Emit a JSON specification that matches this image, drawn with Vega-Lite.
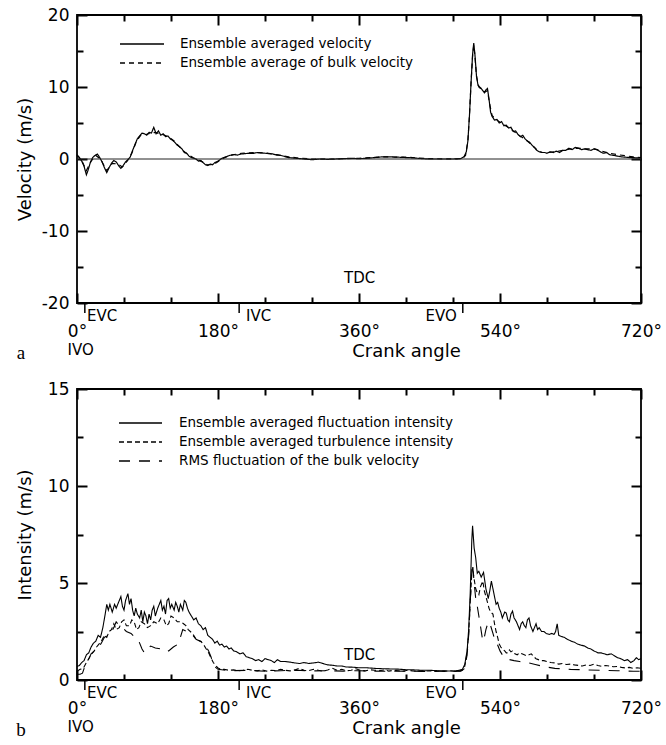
{
  "$schema": "https://vega.github.io/schema/vega-lite/v6.json",
  "padding": {"left": 15, "top": 5, "right": 2, "bottom": 5},
  "bounds": "flush",
  "spacing": 86,
  "config": {
    "view": {"stroke": "black", "strokeWidth": 1.8},
    "font": "DejaVu Sans",
    "axis": {"grid": false, "domain": false, "ticks": true, "tickColor": "black", "tickWidth": 2, "tickOpacity": 1, "labelColor": "black", "labelFont": "DejaVu Sans", "labelFontSize": 17, "titleFont": "DejaVu Sans", "titleFontSize": 18, "titleFontWeight": "normal", "titleColor": "black", "labelFlush": false, "labelOverlap": false},
    "legend": {"labelFont": "DejaVu Sans", "labelFontSize": 13.5, "labelColor": "black", "labelLimit": 0},
    "text": {"font": "DejaVu Sans", "color": "black"}
  },
  "resolve": {"scale": {"strokeDash": "independent", "x": "independent", "y": "independent"}, "legend": {"strokeDash": "independent"}},
  "datasets": {
    "panel_a": [
      {"angle":0,"value":0.5,"series":"velocity"},{"angle":3,"value":0.2,"series":"velocity"},{"angle":6,"value":-0.3,"series":"velocity"},{"angle":9,"value":-1.0,"series":"velocity"},{"angle":12,"value":-2.2,"series":"velocity"},{"angle":14,"value":-1.6,"series":"velocity"},{"angle":17,"value":-0.5,"series":"velocity"},{"angle":20,"value":0.2,"series":"velocity"},{"angle":23,"value":0.5,"series":"velocity"},{"angle":26,"value":0.7,"series":"velocity"},{"angle":29,"value":0.2,"series":"velocity"},{"angle":32,"value":-0.4,"series":"velocity"},{"angle":35,"value":-1.2,"series":"velocity"},{"angle":38,"value":-1.9,"series":"velocity"},{"angle":41,"value":-1.2,"series":"velocity"},{"angle":44,"value":-0.6,"series":"velocity"},{"angle":47,"value":-0.2,"series":"velocity"},{"angle":50,"value":-0.4,"series":"velocity"},{"angle":53,"value":-0.9,"series":"velocity"},{"angle":56,"value":-1.3,"series":"velocity"},{"angle":59,"value":-0.9,"series":"velocity"},{"angle":62,"value":-0.4,"series":"velocity"},{"angle":65,"value":-0.1,"series":"velocity"},{"angle":68,"value":0.3,"series":"velocity"},{"angle":71,"value":1.2,"series":"velocity"},{"angle":74,"value":2.0,"series":"velocity"},{"angle":77,"value":2.8,"series":"velocity"},{"angle":80,"value":3.2,"series":"velocity"},{"angle":83,"value":3.6,"series":"velocity"},{"angle":86,"value":3.5,"series":"velocity"},{"angle":89,"value":3.3,"series":"velocity"},{"angle":92,"value":3.7,"series":"velocity"},{"angle":95,"value":3.6,"series":"velocity"},{"angle":98,"value":4.4,"series":"velocity"},{"angle":101,"value":3.5,"series":"velocity"},{"angle":104,"value":3.9,"series":"velocity"},{"angle":107,"value":3.3,"series":"velocity"},{"angle":110,"value":3.5,"series":"velocity"},{"angle":113,"value":3.1,"series":"velocity"},{"angle":116,"value":3.2,"series":"velocity"},{"angle":119,"value":2.8,"series":"velocity"},{"angle":122,"value":2.6,"series":"velocity"},{"angle":125,"value":2.3,"series":"velocity"},{"angle":128,"value":1.9,"series":"velocity"},{"angle":131,"value":1.7,"series":"velocity"},{"angle":134,"value":1.4,"series":"velocity"},{"angle":137,"value":0.9,"series":"velocity"},{"angle":140,"value":0.8,"series":"velocity"},{"angle":143,"value":0.4,"series":"velocity"},{"angle":146,"value":0.2,"series":"velocity"},{"angle":149,"value":0.1,"series":"velocity"},{"angle":152,"value":0.0,"series":"velocity"},{"angle":155,"value":-0.3,"series":"velocity"},{"angle":158,"value":-0.2,"series":"velocity"},{"angle":161,"value":-0.5,"series":"velocity"},{"angle":164,"value":-0.8,"series":"velocity"},{"angle":167,"value":-0.9,"series":"velocity"},{"angle":170,"value":-0.7,"series":"velocity"},{"angle":173,"value":-0.8,"series":"velocity"},{"angle":176,"value":-0.5,"series":"velocity"},{"angle":180,"value":-0.3,"series":"velocity"},{"angle":185,"value":0.1,"series":"velocity"},{"angle":190,"value":0.3,"series":"velocity"},{"angle":195,"value":0.5,"series":"velocity"},{"angle":200,"value":0.6,"series":"velocity"},{"angle":205,"value":0.55,"series":"velocity"},{"angle":210,"value":0.7,"series":"velocity"},{"angle":215,"value":0.75,"series":"velocity"},{"angle":220,"value":0.8,"series":"velocity"},{"angle":225,"value":0.78,"series":"velocity"},{"angle":230,"value":0.9,"series":"velocity"},{"angle":235,"value":0.85,"series":"velocity"},{"angle":240,"value":0.8,"series":"velocity"},{"angle":245,"value":0.75,"series":"velocity"},{"angle":250,"value":0.7,"series":"velocity"},{"angle":255,"value":0.55,"series":"velocity"},{"angle":260,"value":0.5,"series":"velocity"},{"angle":265,"value":0.35,"series":"velocity"},{"angle":270,"value":0.2,"series":"velocity"},{"angle":280,"value":0.1,"series":"velocity"},{"angle":290,"value":0.0,"series":"velocity"},{"angle":300,"value":-0.1,"series":"velocity"},{"angle":310,"value":0.0,"series":"velocity"},{"angle":320,"value":-0.05,"series":"velocity"},{"angle":330,"value":0.0,"series":"velocity"},{"angle":340,"value":0.05,"series":"velocity"},{"angle":350,"value":0.1,"series":"velocity"},{"angle":360,"value":0.05,"series":"velocity"},{"angle":370,"value":0.1,"series":"velocity"},{"angle":380,"value":0.2,"series":"velocity"},{"angle":390,"value":0.3,"series":"velocity"},{"angle":400,"value":0.3,"series":"velocity"},{"angle":410,"value":0.25,"series":"velocity"},{"angle":420,"value":0.2,"series":"velocity"},{"angle":430,"value":0.15,"series":"velocity"},{"angle":440,"value":0.05,"series":"velocity"},{"angle":450,"value":0.0,"series":"velocity"},{"angle":460,"value":0.0,"series":"velocity"},{"angle":470,"value":0.0,"series":"velocity"},{"angle":480,"value":0.0,"series":"velocity"},{"angle":490,"value":0.05,"series":"velocity"},{"angle":494,"value":0.3,"series":"velocity"},{"angle":497,"value":1.0,"series":"velocity"},{"angle":499,"value":2.5,"series":"velocity"},{"angle":501,"value":6.0,"series":"velocity"},{"angle":503,"value":10.5,"series":"velocity"},{"angle":505,"value":14.5,"series":"velocity"},{"angle":506.5,"value":16.1,"series":"velocity"},{"angle":508,"value":14.5,"series":"velocity"},{"angle":510,"value":11.5,"series":"velocity"},{"angle":512,"value":10.2,"series":"velocity"},{"angle":514,"value":10.0,"series":"velocity"},{"angle":516,"value":9.8,"series":"velocity"},{"angle":518,"value":9.5,"series":"velocity"},{"angle":520,"value":9.2,"series":"velocity"},{"angle":522,"value":9.6,"series":"velocity"},{"angle":524,"value":9.8,"series":"velocity"},{"angle":526,"value":8.3,"series":"velocity"},{"angle":528,"value":6.5,"series":"velocity"},{"angle":530,"value":5.9,"series":"velocity"},{"angle":533,"value":5.4,"series":"velocity"},{"angle":536,"value":5.5,"series":"velocity"},{"angle":539,"value":5.0,"series":"velocity"},{"angle":542,"value":5.2,"series":"velocity"},{"angle":545,"value":4.6,"series":"velocity"},{"angle":548,"value":4.7,"series":"velocity"},{"angle":551,"value":4.3,"series":"velocity"},{"angle":554,"value":4.4,"series":"velocity"},{"angle":557,"value":3.8,"series":"velocity"},{"angle":560,"value":3.9,"series":"velocity"},{"angle":563,"value":3.4,"series":"velocity"},{"angle":566,"value":3.1,"series":"velocity"},{"angle":569,"value":3.3,"series":"velocity"},{"angle":572,"value":2.8,"series":"velocity"},{"angle":575,"value":2.5,"series":"velocity"},{"angle":578,"value":2.3,"series":"velocity"},{"angle":581,"value":1.9,"series":"velocity"},{"angle":584,"value":1.6,"series":"velocity"},{"angle":587,"value":1.2,"series":"velocity"},{"angle":590,"value":1.0,"series":"velocity"},{"angle":593,"value":0.9,"series":"velocity"},{"angle":597,"value":0.9,"series":"velocity"},{"angle":600,"value":0.8,"series":"velocity"},{"angle":604,"value":1.0,"series":"velocity"},{"angle":608,"value":0.9,"series":"velocity"},{"angle":612,"value":1.1,"series":"velocity"},{"angle":616,"value":0.9,"series":"velocity"},{"angle":620,"value":1.2,"series":"velocity"},{"angle":624,"value":1.2,"series":"velocity"},{"angle":628,"value":1.5,"series":"velocity"},{"angle":632,"value":1.3,"series":"velocity"},{"angle":636,"value":1.6,"series":"velocity"},{"angle":640,"value":1.5,"series":"velocity"},{"angle":644,"value":1.3,"series":"velocity"},{"angle":648,"value":1.4,"series":"velocity"},{"angle":652,"value":1.3,"series":"velocity"},{"angle":656,"value":1.2,"series":"velocity"},{"angle":660,"value":1.4,"series":"velocity"},{"angle":664,"value":1.3,"series":"velocity"},{"angle":668,"value":1.0,"series":"velocity"},{"angle":672,"value":0.8,"series":"velocity"},{"angle":676,"value":0.9,"series":"velocity"},{"angle":680,"value":0.6,"series":"velocity"},{"angle":685,"value":0.5,"series":"velocity"},{"angle":690,"value":0.4,"series":"velocity"},{"angle":695,"value":0.3,"series":"velocity"},{"angle":700,"value":0.25,"series":"velocity"},{"angle":705,"value":0.2,"series":"velocity"},{"angle":710,"value":0.2,"series":"velocity"},{"angle":715,"value":0.15,"series":"velocity"},{"angle":720,"value":0.15,"series":"velocity"},
      {"angle":0,"value":0.6,"series":"bulk"},{"angle":6,"value":-0.2,"series":"bulk"},{"angle":12,"value":-1.6,"series":"bulk"},{"angle":18,"value":-0.3,"series":"bulk"},{"angle":24,"value":0.5,"series":"bulk"},{"angle":30,"value":0.0,"series":"bulk"},{"angle":38,"value":-1.6,"series":"bulk"},{"angle":45,"value":-0.6,"series":"bulk"},{"angle":52,"value":-0.7,"series":"bulk"},{"angle":58,"value":-1.1,"series":"bulk"},{"angle":64,"value":-0.3,"series":"bulk"},{"angle":70,"value":0.8,"series":"bulk"},{"angle":76,"value":2.5,"series":"bulk"},{"angle":82,"value":3.4,"series":"bulk"},{"angle":88,"value":3.4,"series":"bulk"},{"angle":94,"value":3.6,"series":"bulk"},{"angle":100,"value":3.7,"series":"bulk"},{"angle":106,"value":3.5,"series":"bulk"},{"angle":112,"value":3.3,"series":"bulk"},{"angle":118,"value":3.0,"series":"bulk"},{"angle":124,"value":2.5,"series":"bulk"},{"angle":130,"value":1.8,"series":"bulk"},{"angle":136,"value":1.1,"series":"bulk"},{"angle":142,"value":0.6,"series":"bulk"},{"angle":148,"value":0.2,"series":"bulk"},{"angle":154,"value":-0.1,"series":"bulk"},{"angle":160,"value":-0.4,"series":"bulk"},{"angle":166,"value":-0.8,"series":"bulk"},{"angle":172,"value":-0.8,"series":"bulk"},{"angle":178,"value":-0.5,"series":"bulk"},{"angle":185,"value":0.0,"series":"bulk"},{"angle":195,"value":0.5,"series":"bulk"},{"angle":210,"value":0.8,"series":"bulk"},{"angle":225,"value":0.9,"series":"bulk"},{"angle":240,"value":0.85,"series":"bulk"},{"angle":255,"value":0.6,"series":"bulk"},{"angle":270,"value":0.3,"series":"bulk"},{"angle":285,"value":0.1,"series":"bulk"},{"angle":300,"value":0.0,"series":"bulk"},{"angle":330,"value":0.0,"series":"bulk"},{"angle":360,"value":0.1,"series":"bulk"},{"angle":390,"value":0.3,"series":"bulk"},{"angle":420,"value":0.25,"series":"bulk"},{"angle":450,"value":0.05,"series":"bulk"},{"angle":480,"value":0.0,"series":"bulk"},{"angle":492,"value":0.05,"series":"bulk"},{"angle":496,"value":0.5,"series":"bulk"},{"angle":499,"value":2.5,"series":"bulk"},{"angle":501,"value":6.0,"series":"bulk"},{"angle":503,"value":10.5,"series":"bulk"},{"angle":505,"value":14.3,"series":"bulk"},{"angle":506.5,"value":15.8,"series":"bulk"},{"angle":508,"value":14.3,"series":"bulk"},{"angle":510,"value":11.5,"series":"bulk"},{"angle":513,"value":10.0,"series":"bulk"},{"angle":517,"value":9.6,"series":"bulk"},{"angle":521,"value":9.3,"series":"bulk"},{"angle":524,"value":9.5,"series":"bulk"},{"angle":527,"value":7.5,"series":"bulk"},{"angle":530,"value":6.0,"series":"bulk"},{"angle":535,"value":5.5,"series":"bulk"},{"angle":540,"value":5.1,"series":"bulk"},{"angle":546,"value":4.7,"series":"bulk"},{"angle":552,"value":4.3,"series":"bulk"},{"angle":558,"value":3.8,"series":"bulk"},{"angle":564,"value":3.3,"series":"bulk"},{"angle":570,"value":2.9,"series":"bulk"},{"angle":576,"value":2.4,"series":"bulk"},{"angle":582,"value":1.8,"series":"bulk"},{"angle":588,"value":1.2,"series":"bulk"},{"angle":594,"value":0.9,"series":"bulk"},{"angle":600,"value":0.9,"series":"bulk"},{"angle":610,"value":1.0,"series":"bulk"},{"angle":620,"value":1.2,"series":"bulk"},{"angle":630,"value":1.4,"series":"bulk"},{"angle":640,"value":1.5,"series":"bulk"},{"angle":650,"value":1.4,"series":"bulk"},{"angle":660,"value":1.4,"series":"bulk"},{"angle":670,"value":1.1,"series":"bulk"},{"angle":680,"value":0.8,"series":"bulk"},{"angle":690,"value":0.6,"series":"bulk"},{"angle":700,"value":0.45,"series":"bulk"},{"angle":710,"value":0.3,"series":"bulk"},{"angle":720,"value":0.2,"series":"bulk"}
    ],
    "panel_b": [
      {"angle":0,"value":0.7,"series":"fluctuation"},{"angle":3,"value":0.75,"series":"fluctuation"},{"angle":6,"value":0.9,"series":"fluctuation"},{"angle":9,"value":1.0,"series":"fluctuation"},{"angle":12,"value":1.3,"series":"fluctuation"},{"angle":15,"value":1.4,"series":"fluctuation"},{"angle":18,"value":1.7,"series":"fluctuation"},{"angle":21,"value":1.9,"series":"fluctuation"},{"angle":24,"value":2.0,"series":"fluctuation"},{"angle":27,"value":2.3,"series":"fluctuation"},{"angle":30,"value":2.2,"series":"fluctuation"},{"angle":33,"value":2.7,"series":"fluctuation"},{"angle":36,"value":3.4,"series":"fluctuation"},{"angle":38,"value":3.9,"series":"fluctuation"},{"angle":40,"value":3.6,"series":"fluctuation"},{"angle":42,"value":3.9,"series":"fluctuation"},{"angle":45,"value":3.5,"series":"fluctuation"},{"angle":48,"value":3.9,"series":"fluctuation"},{"angle":50,"value":3.7,"series":"fluctuation"},{"angle":53,"value":4.0,"series":"fluctuation"},{"angle":56,"value":4.3,"series":"fluctuation"},{"angle":58,"value":3.8,"series":"fluctuation"},{"angle":60,"value":3.6,"series":"fluctuation"},{"angle":62,"value":4.1,"series":"fluctuation"},{"angle":65,"value":4.45,"series":"fluctuation"},{"angle":67,"value":3.9,"series":"fluctuation"},{"angle":69,"value":4.2,"series":"fluctuation"},{"angle":71,"value":3.6,"series":"fluctuation"},{"angle":73,"value":3.3,"series":"fluctuation"},{"angle":75,"value":3.7,"series":"fluctuation"},{"angle":77,"value":3.4,"series":"fluctuation"},{"angle":80,"value":3.2,"series":"fluctuation"},{"angle":82,"value":3.6,"series":"fluctuation"},{"angle":84,"value":3.0,"series":"fluctuation"},{"angle":86,"value":3.5,"series":"fluctuation"},{"angle":88,"value":3.3,"series":"fluctuation"},{"angle":90,"value":2.9,"series":"fluctuation"},{"angle":92,"value":3.4,"series":"fluctuation"},{"angle":94,"value":3.1,"series":"fluctuation"},{"angle":96,"value":3.6,"series":"fluctuation"},{"angle":98,"value":3.8,"series":"fluctuation"},{"angle":100,"value":3.3,"series":"fluctuation"},{"angle":103,"value":3.7,"series":"fluctuation"},{"angle":105,"value":3.9,"series":"fluctuation"},{"angle":107,"value":4.1,"series":"fluctuation"},{"angle":109,"value":3.6,"series":"fluctuation"},{"angle":111,"value":3.8,"series":"fluctuation"},{"angle":113,"value":3.4,"series":"fluctuation"},{"angle":115,"value":4.1,"series":"fluctuation"},{"angle":117,"value":4.2,"series":"fluctuation"},{"angle":119,"value":3.7,"series":"fluctuation"},{"angle":121,"value":3.9,"series":"fluctuation"},{"angle":124,"value":3.6,"series":"fluctuation"},{"angle":126,"value":4.0,"series":"fluctuation"},{"angle":128,"value":3.8,"series":"fluctuation"},{"angle":130,"value":3.5,"series":"fluctuation"},{"angle":132,"value":3.9,"series":"fluctuation"},{"angle":135,"value":3.6,"series":"fluctuation"},{"angle":137,"value":4.1,"series":"fluctuation"},{"angle":139,"value":4.0,"series":"fluctuation"},{"angle":141,"value":3.7,"series":"fluctuation"},{"angle":143,"value":3.5,"series":"fluctuation"},{"angle":146,"value":3.3,"series":"fluctuation"},{"angle":149,"value":3.1,"series":"fluctuation"},{"angle":152,"value":3.2,"series":"fluctuation"},{"angle":155,"value":2.9,"series":"fluctuation"},{"angle":158,"value":2.8,"series":"fluctuation"},{"angle":161,"value":2.6,"series":"fluctuation"},{"angle":164,"value":2.7,"series":"fluctuation"},{"angle":167,"value":2.3,"series":"fluctuation"},{"angle":170,"value":2.2,"series":"fluctuation"},{"angle":173,"value":2.1,"series":"fluctuation"},{"angle":176,"value":1.9,"series":"fluctuation"},{"angle":179,"value":2.0,"series":"fluctuation"},{"angle":182,"value":1.8,"series":"fluctuation"},{"angle":185,"value":1.85,"series":"fluctuation"},{"angle":188,"value":1.7,"series":"fluctuation"},{"angle":191,"value":1.75,"series":"fluctuation"},{"angle":194,"value":1.6,"series":"fluctuation"},{"angle":197,"value":1.65,"series":"fluctuation"},{"angle":200,"value":1.5,"series":"fluctuation"},{"angle":204,"value":1.45,"series":"fluctuation"},{"angle":208,"value":1.35,"series":"fluctuation"},{"angle":212,"value":1.4,"series":"fluctuation"},{"angle":216,"value":1.2,"series":"fluctuation"},{"angle":220,"value":1.15,"series":"fluctuation"},{"angle":224,"value":1.1,"series":"fluctuation"},{"angle":228,"value":1.0,"series":"fluctuation"},{"angle":232,"value":1.05,"series":"fluctuation"},{"angle":236,"value":0.95,"series":"fluctuation"},{"angle":240,"value":1.1,"series":"fluctuation"},{"angle":244,"value":1.05,"series":"fluctuation"},{"angle":248,"value":1.0,"series":"fluctuation"},{"angle":252,"value":0.9,"series":"fluctuation"},{"angle":256,"value":1.05,"series":"fluctuation"},{"angle":260,"value":0.95,"series":"fluctuation"},{"angle":266,"value":0.95,"series":"fluctuation"},{"angle":272,"value":0.92,"series":"fluctuation"},{"angle":278,"value":0.88,"series":"fluctuation"},{"angle":284,"value":0.85,"series":"fluctuation"},{"angle":290,"value":0.9,"series":"fluctuation"},{"angle":296,"value":0.85,"series":"fluctuation"},{"angle":302,"value":0.88,"series":"fluctuation"},{"angle":308,"value":0.92,"series":"fluctuation"},{"angle":314,"value":0.85,"series":"fluctuation"},{"angle":320,"value":0.78,"series":"fluctuation"},{"angle":326,"value":0.76,"series":"fluctuation"},{"angle":332,"value":0.72,"series":"fluctuation"},{"angle":338,"value":0.72,"series":"fluctuation"},{"angle":344,"value":0.67,"series":"fluctuation"},{"angle":352,"value":0.66,"series":"fluctuation"},{"angle":360,"value":0.63,"series":"fluctuation"},{"angle":370,"value":0.63,"series":"fluctuation"},{"angle":380,"value":0.6,"series":"fluctuation"},{"angle":390,"value":0.58,"series":"fluctuation"},{"angle":400,"value":0.57,"series":"fluctuation"},{"angle":410,"value":0.56,"series":"fluctuation"},{"angle":420,"value":0.53,"series":"fluctuation"},{"angle":430,"value":0.52,"series":"fluctuation"},{"angle":440,"value":0.5,"series":"fluctuation"},{"angle":450,"value":0.5,"series":"fluctuation"},{"angle":460,"value":0.48,"series":"fluctuation"},{"angle":470,"value":0.47,"series":"fluctuation"},{"angle":480,"value":0.46,"series":"fluctuation"},{"angle":488,"value":0.5,"series":"fluctuation"},{"angle":492,"value":0.55,"series":"fluctuation"},{"angle":495,"value":0.8,"series":"fluctuation"},{"angle":498,"value":1.5,"series":"fluctuation"},{"angle":500,"value":2.6,"series":"fluctuation"},{"angle":502,"value":4.5,"series":"fluctuation"},{"angle":504,"value":7.2,"series":"fluctuation"},{"angle":505,"value":7.95,"series":"fluctuation"},{"angle":507,"value":6.8,"series":"fluctuation"},{"angle":509,"value":6.3,"series":"fluctuation"},{"angle":511,"value":5.5,"series":"fluctuation"},{"angle":513,"value":5.6,"series":"fluctuation"},{"angle":516,"value":5.3,"series":"fluctuation"},{"angle":519,"value":5.55,"series":"fluctuation"},{"angle":522,"value":4.7,"series":"fluctuation"},{"angle":525,"value":4.2,"series":"fluctuation"},{"angle":527,"value":4.6,"series":"fluctuation"},{"angle":529,"value":5.1,"series":"fluctuation"},{"angle":531,"value":4.7,"series":"fluctuation"},{"angle":533,"value":4.3,"series":"fluctuation"},{"angle":535,"value":3.9,"series":"fluctuation"},{"angle":537,"value":4.0,"series":"fluctuation"},{"angle":539,"value":3.7,"series":"fluctuation"},{"angle":541,"value":3.5,"series":"fluctuation"},{"angle":543,"value":3.2,"series":"fluctuation"},{"angle":546,"value":3.5,"series":"fluctuation"},{"angle":548,"value":3.45,"series":"fluctuation"},{"angle":550,"value":3.1,"series":"fluctuation"},{"angle":552,"value":3.0,"series":"fluctuation"},{"angle":554,"value":3.4,"series":"fluctuation"},{"angle":556,"value":3.55,"series":"fluctuation"},{"angle":558,"value":3.2,"series":"fluctuation"},{"angle":561,"value":3.0,"series":"fluctuation"},{"angle":563,"value":2.8,"series":"fluctuation"},{"angle":565,"value":2.6,"series":"fluctuation"},{"angle":567,"value":2.9,"series":"fluctuation"},{"angle":569,"value":3.0,"series":"fluctuation"},{"angle":571,"value":2.8,"series":"fluctuation"},{"angle":573,"value":2.7,"series":"fluctuation"},{"angle":575,"value":3.1,"series":"fluctuation"},{"angle":577,"value":3.2,"series":"fluctuation"},{"angle":579,"value":2.8,"series":"fluctuation"},{"angle":582,"value":2.5,"series":"fluctuation"},{"angle":584,"value":2.7,"series":"fluctuation"},{"angle":586,"value":2.9,"series":"fluctuation"},{"angle":588,"value":2.6,"series":"fluctuation"},{"angle":590,"value":2.7,"series":"fluctuation"},{"angle":593,"value":2.5,"series":"fluctuation"},{"angle":596,"value":2.5,"series":"fluctuation"},{"angle":599,"value":2.4,"series":"fluctuation"},{"angle":603,"value":2.35,"series":"fluctuation"},{"angle":606,"value":2.4,"series":"fluctuation"},{"angle":609,"value":2.35,"series":"fluctuation"},{"angle":611,"value":2.5,"series":"fluctuation"},{"angle":613,"value":2.9,"series":"fluctuation"},{"angle":615,"value":2.3,"series":"fluctuation"},{"angle":618,"value":2.25,"series":"fluctuation"},{"angle":622,"value":2.2,"series":"fluctuation"},{"angle":626,"value":2.1,"series":"fluctuation"},{"angle":631,"value":2.0,"series":"fluctuation"},{"angle":635,"value":1.95,"series":"fluctuation"},{"angle":639,"value":1.85,"series":"fluctuation"},{"angle":643,"value":1.8,"series":"fluctuation"},{"angle":648,"value":1.75,"series":"fluctuation"},{"angle":652,"value":1.65,"series":"fluctuation"},{"angle":656,"value":1.6,"series":"fluctuation"},{"angle":660,"value":1.5,"series":"fluctuation"},{"angle":665,"value":1.4,"series":"fluctuation"},{"angle":669,"value":1.4,"series":"fluctuation"},{"angle":673,"value":1.35,"series":"fluctuation"},{"angle":677,"value":1.3,"series":"fluctuation"},{"angle":682,"value":1.35,"series":"fluctuation"},{"angle":686,"value":1.25,"series":"fluctuation"},{"angle":690,"value":1.15,"series":"fluctuation"},{"angle":694,"value":1.1,"series":"fluctuation"},{"angle":699,"value":1.0,"series":"fluctuation"},{"angle":703,"value":1.05,"series":"fluctuation"},{"angle":707,"value":0.9,"series":"fluctuation"},{"angle":711,"value":1.0,"series":"fluctuation"},{"angle":714,"value":1.15,"series":"fluctuation"},{"angle":717,"value":1.05,"series":"fluctuation"},{"angle":720,"value":1.1,"series":"fluctuation"},
      {"angle":0,"value":0.45,"series":"turbulence"},{"angle":4,"value":0.55,"series":"turbulence"},{"angle":8,"value":0.6,"series":"turbulence"},{"angle":12,"value":0.9,"series":"turbulence"},{"angle":15,"value":1.1,"series":"turbulence"},{"angle":18,"value":1.3,"series":"turbulence"},{"angle":22,"value":1.5,"series":"turbulence"},{"angle":25,"value":1.7,"series":"turbulence"},{"angle":28,"value":1.85,"series":"turbulence"},{"angle":31,"value":2.0,"series":"turbulence"},{"angle":35,"value":2.3,"series":"turbulence"},{"angle":38,"value":2.2,"series":"turbulence"},{"angle":41,"value":2.5,"series":"turbulence"},{"angle":44,"value":2.6,"series":"turbulence"},{"angle":47,"value":2.9,"series":"turbulence"},{"angle":50,"value":2.6,"series":"turbulence"},{"angle":54,"value":2.7,"series":"turbulence"},{"angle":57,"value":3.0,"series":"turbulence"},{"angle":60,"value":3.1,"series":"turbulence"},{"angle":63,"value":2.8,"series":"turbulence"},{"angle":67,"value":2.8,"series":"turbulence"},{"angle":70,"value":3.1,"series":"turbulence"},{"angle":73,"value":3.0,"series":"turbulence"},{"angle":76,"value":2.6,"series":"turbulence"},{"angle":79,"value":2.7,"series":"turbulence"},{"angle":82,"value":3.0,"series":"turbulence"},{"angle":86,"value":2.9,"series":"turbulence"},{"angle":90,"value":2.7,"series":"turbulence"},{"angle":94,"value":2.8,"series":"turbulence"},{"angle":98,"value":3.0,"series":"turbulence"},{"angle":103,"value":2.9,"series":"turbulence"},{"angle":107,"value":3.2,"series":"turbulence"},{"angle":111,"value":3.1,"series":"turbulence"},{"angle":114,"value":2.8,"series":"turbulence"},{"angle":117,"value":2.9,"series":"turbulence"},{"angle":120,"value":3.3,"series":"turbulence"},{"angle":124,"value":3.2,"series":"turbulence"},{"angle":128,"value":3.0,"series":"turbulence"},{"angle":133,"value":3.0,"series":"turbulence"},{"angle":136,"value":2.9,"series":"turbulence"},{"angle":139,"value":2.8,"series":"turbulence"},{"angle":142,"value":2.6,"series":"turbulence"},{"angle":146,"value":2.45,"series":"turbulence"},{"angle":149,"value":2.3,"series":"turbulence"},{"angle":152,"value":2.1,"series":"turbulence"},{"angle":155,"value":2.05,"series":"turbulence"},{"angle":158,"value":2.0,"series":"turbulence"},{"angle":162,"value":1.8,"series":"turbulence"},{"angle":165,"value":1.6,"series":"turbulence"},{"angle":168,"value":1.4,"series":"turbulence"},{"angle":171,"value":1.15,"series":"turbulence"},{"angle":174,"value":0.9,"series":"turbulence"},{"angle":177,"value":0.75,"series":"turbulence"},{"angle":180,"value":0.62,"series":"turbulence"},{"angle":184,"value":0.55,"series":"turbulence"},{"angle":188,"value":0.55,"series":"turbulence"},{"angle":194,"value":0.5,"series":"turbulence"},{"angle":200,"value":0.52,"series":"turbulence"},{"angle":206,"value":0.48,"series":"turbulence"},{"angle":212,"value":0.5,"series":"turbulence"},{"angle":218,"value":0.55,"series":"turbulence"},{"angle":224,"value":0.5,"series":"turbulence"},{"angle":230,"value":0.47,"series":"turbulence"},{"angle":236,"value":0.52,"series":"turbulence"},{"angle":242,"value":0.46,"series":"turbulence"},{"angle":248,"value":0.5,"series":"turbulence"},{"angle":254,"value":0.48,"series":"turbulence"},{"angle":260,"value":0.55,"series":"turbulence"},{"angle":266,"value":0.5,"series":"turbulence"},{"angle":272,"value":0.47,"series":"turbulence"},{"angle":278,"value":0.52,"series":"turbulence"},{"angle":284,"value":0.6,"series":"turbulence"},{"angle":290,"value":0.5,"series":"turbulence"},{"angle":296,"value":0.48,"series":"turbulence"},{"angle":302,"value":0.55,"series":"turbulence"},{"angle":308,"value":0.5,"series":"turbulence"},{"angle":314,"value":0.45,"series":"turbulence"},{"angle":320,"value":0.52,"series":"turbulence"},{"angle":326,"value":0.6,"series":"turbulence"},{"angle":332,"value":0.5,"series":"turbulence"},{"angle":338,"value":0.55,"series":"turbulence"},{"angle":344,"value":0.48,"series":"turbulence"},{"angle":350,"value":0.5,"series":"turbulence"},{"angle":356,"value":0.58,"series":"turbulence"},{"angle":362,"value":0.5,"series":"turbulence"},{"angle":368,"value":0.47,"series":"turbulence"},{"angle":374,"value":0.53,"series":"turbulence"},{"angle":380,"value":0.5,"series":"turbulence"},{"angle":386,"value":0.48,"series":"turbulence"},{"angle":392,"value":0.52,"series":"turbulence"},{"angle":398,"value":0.46,"series":"turbulence"},{"angle":404,"value":0.5,"series":"turbulence"},{"angle":410,"value":0.48,"series":"turbulence"},{"angle":416,"value":0.45,"series":"turbulence"},{"angle":422,"value":0.5,"series":"turbulence"},{"angle":428,"value":0.47,"series":"turbulence"},{"angle":434,"value":0.45,"series":"turbulence"},{"angle":440,"value":0.48,"series":"turbulence"},{"angle":446,"value":0.46,"series":"turbulence"},{"angle":452,"value":0.47,"series":"turbulence"},{"angle":458,"value":0.44,"series":"turbulence"},{"angle":464,"value":0.47,"series":"turbulence"},{"angle":470,"value":0.45,"series":"turbulence"},{"angle":476,"value":0.48,"series":"turbulence"},{"angle":482,"value":0.45,"series":"turbulence"},{"angle":488,"value":0.47,"series":"turbulence"},{"angle":492,"value":0.5,"series":"turbulence"},{"angle":495,"value":0.7,"series":"turbulence"},{"angle":498,"value":1.4,"series":"turbulence"},{"angle":500,"value":2.4,"series":"turbulence"},{"angle":502,"value":4.0,"series":"turbulence"},{"angle":504,"value":5.5,"series":"turbulence"},{"angle":505,"value":5.8,"series":"turbulence"},{"angle":507,"value":5.2,"series":"turbulence"},{"angle":509,"value":4.7,"series":"turbulence"},{"angle":511,"value":4.5,"series":"turbulence"},{"angle":513,"value":4.4,"series":"turbulence"},{"angle":515,"value":4.8,"series":"turbulence"},{"angle":518,"value":5.1,"series":"turbulence"},{"angle":520,"value":4.6,"series":"turbulence"},{"angle":522,"value":4.3,"series":"turbulence"},{"angle":524,"value":4.0,"series":"turbulence"},{"angle":526,"value":3.7,"series":"turbulence"},{"angle":528,"value":3.5,"series":"turbulence"},{"angle":531,"value":3.4,"series":"turbulence"},{"angle":533,"value":2.9,"series":"turbulence"},{"angle":535,"value":2.5,"series":"turbulence"},{"angle":537,"value":2.2,"series":"turbulence"},{"angle":539,"value":1.85,"series":"turbulence"},{"angle":541,"value":1.7,"series":"turbulence"},{"angle":543,"value":1.6,"series":"turbulence"},{"angle":546,"value":1.5,"series":"turbulence"},{"angle":548,"value":1.4,"series":"turbulence"},{"angle":550,"value":1.4,"series":"turbulence"},{"angle":552,"value":1.55,"series":"turbulence"},{"angle":554,"value":1.45,"series":"turbulence"},{"angle":556,"value":1.5,"series":"turbulence"},{"angle":559,"value":1.35,"series":"turbulence"},{"angle":562,"value":1.3,"series":"turbulence"},{"angle":565,"value":1.4,"series":"turbulence"},{"angle":568,"value":1.35,"series":"turbulence"},{"angle":571,"value":1.3,"series":"turbulence"},{"angle":574,"value":1.25,"series":"turbulence"},{"angle":577,"value":1.3,"series":"turbulence"},{"angle":580,"value":1.35,"series":"turbulence"},{"angle":583,"value":1.2,"series":"turbulence"},{"angle":586,"value":1.1,"series":"turbulence"},{"angle":589,"value":1.05,"series":"turbulence"},{"angle":592,"value":1.0,"series":"turbulence"},{"angle":596,"value":1.0,"series":"turbulence"},{"angle":600,"value":0.95,"series":"turbulence"},{"angle":605,"value":0.9,"series":"turbulence"},{"angle":610,"value":0.88,"series":"turbulence"},{"angle":615,"value":0.82,"series":"turbulence"},{"angle":620,"value":0.85,"series":"turbulence"},{"angle":625,"value":0.8,"series":"turbulence"},{"angle":630,"value":0.82,"series":"turbulence"},{"angle":635,"value":0.78,"series":"turbulence"},{"angle":640,"value":0.75,"series":"turbulence"},{"angle":645,"value":0.72,"series":"turbulence"},{"angle":650,"value":0.78,"series":"turbulence"},{"angle":655,"value":0.75,"series":"turbulence"},{"angle":660,"value":0.82,"series":"turbulence"},{"angle":665,"value":0.75,"series":"turbulence"},{"angle":670,"value":0.7,"series":"turbulence"},{"angle":675,"value":0.75,"series":"turbulence"},{"angle":680,"value":0.72,"series":"turbulence"},{"angle":685,"value":0.68,"series":"turbulence"},{"angle":690,"value":0.7,"series":"turbulence"},{"angle":695,"value":0.65,"series":"turbulence"},{"angle":700,"value":0.62,"series":"turbulence"},{"angle":705,"value":0.65,"series":"turbulence"},{"angle":710,"value":0.6,"series":"turbulence"},{"angle":715,"value":0.63,"series":"turbulence"},{"angle":720,"value":0.6,"series":"turbulence"},
      {"angle":0,"value":0.3,"series":"rms"},{"angle":4,"value":0.3,"series":"rms"},{"angle":7,"value":0.35,"series":"rms"},{"angle":10,"value":0.7,"series":"rms"},{"angle":14,"value":1.0,"series":"rms"},{"angle":18,"value":1.35,"series":"rms"},{"angle":22,"value":1.5,"series":"rms"},{"angle":27,"value":1.65,"series":"rms"},{"angle":31,"value":1.9,"series":"rms"},{"angle":35,"value":2.2,"series":"rms"},{"angle":39,"value":2.3,"series":"rms"},{"angle":43,"value":2.4,"series":"rms"},{"angle":47,"value":2.7,"series":"rms"},{"angle":50,"value":3.0,"series":"rms"},{"angle":54,"value":2.8,"series":"rms"},{"angle":58,"value":2.7,"series":"rms"},{"angle":63,"value":2.5,"series":"rms"},{"angle":69,"value":2.4,"series":"rms"},{"angle":74,"value":2.2,"series":"rms"},{"angle":79,"value":2.0,"series":"rms"},{"angle":83,"value":1.6,"series":"rms"},{"angle":86,"value":1.4,"series":"rms"},{"angle":90,"value":1.6,"series":"rms"},{"angle":94,"value":1.75,"series":"rms"},{"angle":100,"value":1.65,"series":"rms"},{"angle":107,"value":1.6,"series":"rms"},{"angle":112,"value":1.45,"series":"rms"},{"angle":117,"value":1.5,"series":"rms"},{"angle":123,"value":1.7,"series":"rms"},{"angle":129,"value":1.85,"series":"rms"},{"angle":132,"value":2.2,"series":"rms"},{"angle":135,"value":2.6,"series":"rms"},{"angle":140,"value":2.5,"series":"rms"},{"angle":146,"value":2.4,"series":"rms"},{"angle":152,"value":2.1,"series":"rms"},{"angle":157,"value":2.0,"series":"rms"},{"angle":162,"value":1.9,"series":"rms"},{"angle":165,"value":1.7,"series":"rms"},{"angle":168,"value":1.5,"series":"rms"},{"angle":171,"value":1.2,"series":"rms"},{"angle":174,"value":0.82,"series":"rms"},{"angle":177,"value":0.65,"series":"rms"},{"angle":180,"value":0.55,"series":"rms"},{"angle":190,"value":0.5,"series":"rms"},{"angle":200,"value":0.48,"series":"rms"},{"angle":220,"value":0.5,"series":"rms"},{"angle":240,"value":0.45,"series":"rms"},{"angle":260,"value":0.48,"series":"rms"},{"angle":280,"value":0.5,"series":"rms"},{"angle":300,"value":0.47,"series":"rms"},{"angle":320,"value":0.48,"series":"rms"},{"angle":340,"value":0.46,"series":"rms"},{"angle":360,"value":0.48,"series":"rms"},{"angle":380,"value":0.46,"series":"rms"},{"angle":400,"value":0.45,"series":"rms"},{"angle":420,"value":0.46,"series":"rms"},{"angle":440,"value":0.44,"series":"rms"},{"angle":460,"value":0.45,"series":"rms"},{"angle":480,"value":0.44,"series":"rms"},{"angle":490,"value":0.45,"series":"rms"},{"angle":495,"value":0.6,"series":"rms"},{"angle":498,"value":1.3,"series":"rms"},{"angle":500,"value":2.3,"series":"rms"},{"angle":502,"value":4.0,"series":"rms"},{"angle":504,"value":5.6,"series":"rms"},{"angle":505,"value":6.0,"series":"rms"},{"angle":507,"value":5.0,"series":"rms"},{"angle":509,"value":4.2,"series":"rms"},{"angle":511,"value":3.8,"series":"rms"},{"angle":513,"value":3.3,"series":"rms"},{"angle":515,"value":2.8,"series":"rms"},{"angle":518,"value":2.0,"series":"rms"},{"angle":520,"value":2.2,"series":"rms"},{"angle":522,"value":2.6,"series":"rms"},{"angle":525,"value":3.0,"series":"rms"},{"angle":528,"value":2.8,"series":"rms"},{"angle":531,"value":2.4,"series":"rms"},{"angle":534,"value":2.0,"series":"rms"},{"angle":537,"value":1.8,"series":"rms"},{"angle":540,"value":1.5,"series":"rms"},{"angle":543,"value":1.3,"series":"rms"},{"angle":547,"value":1.15,"series":"rms"},{"angle":552,"value":1.05,"series":"rms"},{"angle":558,"value":1.0,"series":"rms"},{"angle":565,"value":0.95,"series":"rms"},{"angle":575,"value":0.9,"series":"rms"},{"angle":585,"value":0.8,"series":"rms"},{"angle":595,"value":0.7,"series":"rms"},{"angle":610,"value":0.6,"series":"rms"},{"angle":630,"value":0.55,"series":"rms"},{"angle":650,"value":0.52,"series":"rms"},{"angle":670,"value":0.5,"series":"rms"},{"angle":690,"value":0.48,"series":"rms"},{"angle":710,"value":0.45,"series":"rms"},{"angle":720,"value":0.45,"series":"rms"}
    ]
  },
  "vconcat": [
    {
      "width": 564,
      "height": 288,
      "layer": [
        {
          "data": {"name": "panel_a"},
          "mark": {"type": "line", "color": "black", "strokeWidth": 1.2},
          "encoding": {
            "x": {"field": "angle", "type": "quantitative", "scale": {"domain": [0, 720], "nice": false, "zero": false},
              "axis": {"orient": "bottom", "offset": -10, "values": [0, 180, 360, 540, 720], "tickSize": 10, "labelExpr": "datum.value + '°'", "labelPadding": 20, "labelDx": 4, "title": "Crank angle", "titleX": 329, "titleY": 58, "titleAlign": "center", "titleBaseline": "middle"}},
            "y": {"field": "value", "type": "quantitative", "scale": {"domain": [-20, 20], "nice": false, "zero": false},
              "axis": {"orient": "left", "offset": -10, "values": [-20, -10, 0, 10, 20], "tickSize": 10, "labelExpr": "'' + datum.value", "labelPadding": 8, "title": "Velocity (m/s)", "titleX": -62, "titleY": 144, "titleAngle": -90, "titleAlign": "center", "titleBaseline": "middle"}},
            "strokeDash": {"field": "series", "type": "nominal", "scale": {"domain": ["velocity", "bulk"], "range": [[1, 0], [5, 4]]},
              "legend": {"orient": "none", "legendX": 42, "legendY": 19.5, "title": null, "symbolType": "stroke", "symbolSize": 1936, "symbolStrokeWidth": 1.3, "symbolStrokeColor": "black", "labelOffset": 15, "clipHeight": 19, "rowPadding": 0, "padding": 0, "labelExpr": "datum.label == 'velocity' ? 'Ensemble averaged velocity' : 'Ensemble average of bulk velocity'"}}
          }
        },
        {
          "data": {"values": [{"angle": 10, "value": -20, "value2": -21.4}, {"angle": 207, "value": -20, "value2": -21.4}, {"angle": 492.5, "value": -20, "value2": -21.4}]},
          "mark": {"type": "rule", "color": "black", "strokeWidth": 1.5},
          "encoding": {
            "x": {"field": "angle", "type": "quantitative", "axis": {"orient": "top", "offset": -10, "values": [0, 180, 360, 540, 720], "tickSize": 10, "labels": false, "title": null}},
            "y": {"field": "value", "type": "quantitative", "axis": {"orient": "right", "offset": -10, "values": [-20, -10, 0, 10, 20], "tickSize": 10, "labels": false, "title": null}},
            "y2": {"field": "value2"}
          }
        },
        {
          "data": {"values": [{"value": 0}]},
          "mark": {"type": "rule", "color": "#222222", "strokeWidth": 1},
          "encoding": {"y": {"field": "value", "type": "quantitative", "axis": null}}
        },
        {
          "data": {"values": [{"label": "TDC", "angle": 341, "value": -16.5}, {"label": "EVC", "angle": 12.8, "value": -21.8}, {"label": "IVC", "angle": 215.7, "value": -21.8}, {"label": "EVO", "angle": 445, "value": -21.8}, {"label": "IVO", "angle": -12, "value": -26.5}]},
          "mark": {"type": "text", "align": "left", "baseline": "middle", "fontSize": 15, "font": "DejaVu Sans"},
          "encoding": {
            "x": {"field": "angle", "type": "quantitative", "axis": {"orient": "bottom", "offset": -6, "values": [60, 120, 240, 300, 420, 480, 600, 660], "tickSize": 6, "labels": false, "title": null}},
            "y": {"field": "value", "type": "quantitative", "axis": {"orient": "left", "offset": -6, "values": [-15, -5, 5, 15], "tickSize": 6, "labels": false, "title": null}},
            "text": {"field": "label"}
          }
        },
        {
          "data": {"values": [{"label": "a", "angle": -71.5, "value": -26.9}]},
          "mark": {"type": "text", "align": "center", "baseline": "middle", "fontSize": 19, "font": "Liberation Serif"},
          "encoding": {
            "x": {"field": "angle", "type": "quantitative", "axis": {"orient": "top", "offset": -6, "values": [60, 120, 240, 300, 420, 480, 600, 660], "tickSize": 6, "labels": false, "title": null}},
            "y": {"field": "value", "type": "quantitative", "axis": {"orient": "right", "offset": -6, "values": [-15, -5, 5, 15], "tickSize": 6, "labels": false, "title": null}},
            "text": {"field": "label"}
          }
        }
      ],
      "resolve": {"axis": {"x": "independent", "y": "independent"}}
    },
    {
      "width": 564,
      "height": 291,
      "layer": [
        {
          "data": {"name": "panel_b"},
          "mark": {"type": "line", "color": "black", "strokeWidth": 1.1},
          "encoding": {
            "x": {"field": "angle", "type": "quantitative", "scale": {"domain": [0, 720], "nice": false, "zero": false},
              "axis": {"orient": "bottom", "offset": -10, "values": [0, 180, 360, 540, 720], "tickSize": 10, "labelExpr": "datum.value + '°'", "labelPadding": 20, "labelDx": 4, "title": "Crank angle", "titleX": 329, "titleY": 58, "titleAlign": "center", "titleBaseline": "middle"}},
            "y": {"field": "value", "type": "quantitative", "scale": {"domain": [0, 15], "nice": false},
              "axis": {"orient": "left", "offset": -10, "values": [0, 5, 10, 15], "tickSize": 10, "labelExpr": "'' + datum.value", "labelPadding": 8, "title": "Intensity (m/s)", "titleX": -62, "titleY": 145.5, "titleAngle": -90, "titleAlign": "center", "titleBaseline": "middle"}},
            "strokeDash": {"field": "series", "type": "nominal", "scale": {"domain": ["fluctuation", "turbulence", "rms"], "range": [[1, 0], [5, 3], [11, 9]]},
              "legend": {"orient": "none", "legendX": 41, "legendY": 24.75, "title": null, "symbolType": "stroke", "symbolSize": 1849, "symbolStrokeWidth": 1.3, "symbolStrokeColor": "black", "labelOffset": 16, "clipHeight": 18.5, "rowPadding": 0, "padding": 0, "labelExpr": "datum.label == 'fluctuation' ? 'Ensemble averaged fluctuation intensity' : datum.label == 'turbulence' ? 'Ensemble averaged turbulence intensity' : 'RMS fluctuation of the bulk velocity'"}}
          }
        },
        {
          "data": {"values": [{"angle": 10, "value": 0, "value2": -0.52}, {"angle": 207, "value": 0, "value2": -0.52}, {"angle": 492.5, "value": 0, "value2": -0.52}]},
          "mark": {"type": "rule", "color": "black", "strokeWidth": 1.5},
          "encoding": {
            "x": {"field": "angle", "type": "quantitative", "axis": {"orient": "top", "offset": -10, "values": [0, 180, 360, 540, 720], "tickSize": 10, "labels": false, "title": null}},
            "y": {"field": "value", "type": "quantitative", "axis": {"orient": "right", "offset": -10, "values": [0, 5, 10, 15], "tickSize": 10, "labels": false, "title": null}},
            "y2": {"field": "value2"}
          }
        },
        {
          "data": {"values": [{"label": "TDC", "angle": 341, "value": 1.29}, {"label": "EVC", "angle": 12.8, "value": -0.67}, {"label": "IVC", "angle": 215.7, "value": -0.67}, {"label": "EVO", "angle": 445, "value": -0.67}, {"label": "IVO", "angle": -12, "value": -2.42}]},
          "mark": {"type": "text", "align": "left", "baseline": "middle", "fontSize": 15, "font": "DejaVu Sans"},
          "encoding": {
            "x": {"field": "angle", "type": "quantitative", "axis": {"orient": "bottom", "offset": -6, "values": [60, 120, 240, 300, 420, 480, 600, 660], "tickSize": 6, "labels": false, "title": null}},
            "y": {"field": "value", "type": "quantitative", "axis": {"orient": "left", "offset": -6, "values": [2.5, 7.5, 12.5], "tickSize": 6, "labels": false, "title": null}},
            "text": {"field": "label"}
          }
        },
        {
          "data": {"values": [{"label": "b", "angle": -71.5, "value": -2.58}]},
          "mark": {"type": "text", "align": "center", "baseline": "middle", "fontSize": 19, "font": "Liberation Serif"},
          "encoding": {
            "x": {"field": "angle", "type": "quantitative", "axis": {"orient": "top", "offset": -6, "values": [60, 120, 240, 300, 420, 480, 600, 660], "tickSize": 6, "labels": false, "title": null}},
            "y": {"field": "value", "type": "quantitative", "axis": {"orient": "right", "offset": -6, "values": [2.5, 7.5, 12.5], "tickSize": 6, "labels": false, "title": null}},
            "text": {"field": "label"}
          }
        }
      ],
      "resolve": {"axis": {"x": "independent", "y": "independent"}}
    }
  ]
}
